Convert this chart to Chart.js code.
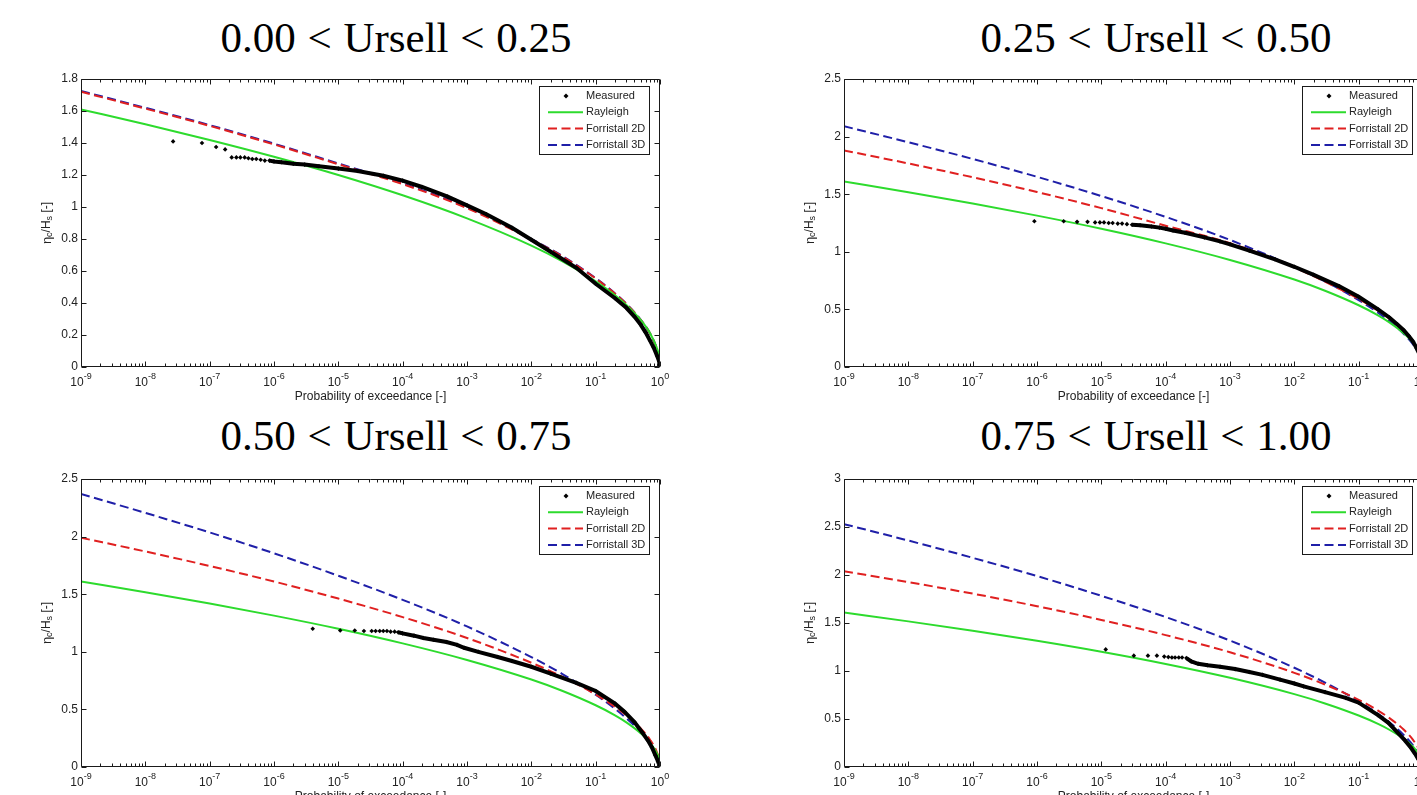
<!DOCTYPE html>
<html><head><meta charset="utf-8">
<script src="https://cdn.jsdelivr.net/npm/chart.js@4.4.1/dist/chart.umd.min.js"></script>
<style>
html,body{margin:0;padding:0;background:#fff;overflow:hidden;width:1417px;height:795px;position:relative;}
.panel{position:absolute;width:700px;height:360px;}
.title{position:absolute;font-family:'Liberation Serif','Times New Roman',serif;font-size:43px;line-height:44px;white-space:nowrap;transform:translateX(-50%);color:#000;word-spacing:1px;}
</style></head><body>
<div class="title" id="t0" style="left:396px;top:16px"></div>
<div class="title" id="t1" style="left:1156px;top:16px"></div>
<div class="title" id="t2" style="left:396px;top:414px"></div>
<div class="title" id="t3" style="left:1156px;top:414px"></div>
<div class="panel" style="left:0px;top:60px"><canvas id="c0"></canvas></div>
<div class="panel" style="left:763px;top:60px"><canvas id="c1"></canvas></div>
<div class="panel" style="left:0px;top:460px"><canvas id="c2"></canvas></div>
<div class="panel" style="left:763px;top:460px"><canvas id="c3"></canvas></div>
<script>
// ---------- data ----------
const panelTitles = ['0.00 < Ursell < 0.25','0.25 < Ursell < 0.50','0.50 < Ursell < 0.75','0.75 < Ursell < 1.00'];
const seriesNames = ['Measured','Rayleigh','Forristall 2D','Forristall 3D'];
const xTickValues = [1e-9,1e-8,1e-7,1e-6,1e-5,1e-4,1e-3,1e-2,1e-1,1];
const xTickBase = '10';
const xTickExponents = ['-9','-8','-7','-6','-5','-4','-3','-2','-1','0'];
const yMaxes = [1.8, 2.5, 2.5, 3];
const ySteps = [0.2, 0.5, 0.5, 0.5];

const pCurve = [1e-9,1e-8,1e-7,1e-6,1e-5,1e-4,1e-3,1e-2,3e-2,1e-1,0.2,0.3,0.5,0.7,0.9,0.97,1];
const rayleigh = [1.610,1.517,1.419,1.314,1.200,1.073,0.929,0.759,0.662,0.536,0.449,0.388,0.294,0.211,0.115,0.062,0];

const forr2D_a = [1.720,1.615,1.507,1.391,1.267,1.143,0.993,0.797,0.692,0.553,0.458,0.394,0.295,0.209,0.110,0.058,0];
const forr3D_a = [1.725,1.620,1.512,1.396,1.272,1.148,0.997,0.800,0.695,0.555,0.460,0.395,0.296,0.210,0.111,0.058,0];
const forr2D_b = [1.880,1.767,1.647,1.519,1.379,1.226,1.075,0.865,0.740,0.590,0.488,0.419,0.313,0.220,0.116,0.060,0];
const forr3D_b = [2.090,1.951,1.806,1.651,1.484,1.303,1.103,0.870,0.743,0.581,0.472,0.398,0.289,0.196,0.097,0.047,0];
const forr2D_c = [1.990,1.871,1.745,1.610,1.462,1.301,1.120,0.905,0.785,0.630,0.522,0.448,0.336,0.237,0.125,0.065,0];
const forr3D_c = [2.370,2.206,2.036,1.855,1.660,1.451,1.220,0.954,0.809,0.627,0.505,0.424,0.303,0.203,0.097,0.046,0];
const forr2D_d = [2.040,1.926,1.806,1.675,1.532,1.374,1.195,0.981,0.859,0.700,0.588,0.510,0.390,0.282,0.156,0.085,0];
const forr3D_d = [2.530,2.359,2.179,1.989,1.783,1.562,1.317,1.034,0.879,0.685,0.553,0.466,0.335,0.226,0.109,0.052,0];

const measP_a = [2.7e-8,7.6e-8,1.26e-7,1.74e-7,2.2e-7,2.6e-7,3.0e-7,3.5e-7,4.0e-7,4.6e-7,5.3e-7,6.2e-7,7.2e-7,8.5e-7,1e-6,1.3e-6,2e-6,3e-6,5e-6,1e-5,2e-5,5e-5,1e-4,2e-4,5e-4,1e-3,2e-3,5e-3,1e-2,2e-2,5e-2,0.1,0.2,0.3,0.4,0.5,0.6,0.7,0.8,0.9,0.97,1];
const measV_a = [1.41,1.40,1.375,1.36,1.31,1.31,1.31,1.31,1.305,1.30,1.30,1.295,1.29,1.29,1.285,1.28,1.27,1.265,1.255,1.24,1.225,1.195,1.165,1.125,1.065,1.01,0.955,0.87,0.795,0.72,0.62,0.52,0.43,0.37,0.315,0.265,0.215,0.165,0.12,0.07,0.035,0];
const measP_b = [9.1e-7,2.6e-6,4.2e-6,6.1e-6,8e-6,9.5e-6,1.1e-5,1.3e-5,1.5e-5,1.8e-5,2.1e-5,2.5e-5,3e-5,4e-5,6e-5,8e-5,1e-4,1.3e-4,2e-4,4e-4,7e-4,1e-3,2e-3,5e-3,1e-2,2e-2,5e-2,0.1,0.2,0.3,0.4,0.5,0.6,0.7,0.8,0.9,0.97,1];
const measV_b = [1.265,1.265,1.26,1.26,1.255,1.255,1.255,1.25,1.25,1.245,1.245,1.24,1.235,1.23,1.22,1.21,1.20,1.185,1.165,1.125,1.09,1.065,1.01,0.935,0.87,0.80,0.70,0.61,0.50,0.43,0.37,0.32,0.27,0.22,0.16,0.10,0.05,0];
const measP_c = [4e-6,1.07e-5,1.8e-5,2.5e-5,3.3e-5,3.8e-5,4.4e-5,5e-5,5.7e-5,6.5e-5,7.5e-5,8.5e-5,1e-4,1.5e-4,2.1e-4,3e-4,4.8e-4,7e-4,9e-4,1.5e-3,3e-3,5e-3,1e-2,2e-2,5e-2,0.1,0.2,0.28,0.4,0.53,0.65,0.75,0.85,0.93,1];
const measV_c = [1.20,1.185,1.185,1.18,1.18,1.18,1.18,1.18,1.18,1.175,1.175,1.17,1.16,1.14,1.12,1.105,1.085,1.06,1.035,1.0,0.955,0.92,0.87,0.81,0.73,0.66,0.55,0.48,0.39,0.30,0.23,0.17,0.10,0.05,0];
const measP_d = [1.17e-5,3.2e-5,5.3e-5,7.3e-5,9.5e-5,1.1e-4,1.25e-4,1.4e-4,1.6e-4,1.8e-4,2.1e-4,2.5e-4,3.2e-4,4.5e-4,7e-4,1.2e-3,2e-3,3.2e-3,6e-3,1e-2,1.4e-2,3e-2,6.3e-2,0.1,0.2,0.29,0.4,0.52,0.65,0.75,0.85,0.95,1];
const measV_d = [1.225,1.16,1.16,1.16,1.15,1.145,1.14,1.14,1.14,1.14,1.135,1.10,1.075,1.06,1.045,1.02,0.99,0.96,0.91,0.87,0.84,0.78,0.72,0.67,0.54,0.46,0.36,0.28,0.20,0.14,0.08,0.03,0];
// index from which measured points merge into a continuous band
const measJoinFrom = [13, 12, 11, 10];

// ---------- rendering ----------
const SANS = "'Liberation Sans', Arial, sans-serif";
const panels = [
  {mp: measP_a, mv: measV_a, f2: forr2D_a, f3: forr3D_a},
  {mp: measP_b, mv: measV_b, f2: forr2D_b, f3: forr3D_b},
  {mp: measP_c, mv: measV_c, f2: forr2D_c, f3: forr3D_c},
  {mp: measP_d, mv: measV_d, f2: forr2D_d, f3: forr3D_d}
];
const pts = (xs, ys) => xs.map((x, i) => ({x: x, y: ys[i]}));

const matlabPlugin = {
  id: 'matlabAxes',
  afterDatasetsDraw(chart) {
    const {ctx, chartArea: a, scales: {x, y}} = chart;
    ctx.save();
    ctx.strokeStyle = '#1a1a1a';
    ctx.lineWidth = 1;
    ctx.setLineDash([]);
    ctx.beginPath();
    const L = Math.round(a.left) + 0.5, R = Math.round(a.right) - 0.5;
    const T = Math.round(a.top) + 0.5, B = Math.round(a.bottom) - 0.5;
    ctx.moveTo(L, T); ctx.lineTo(R, T); ctx.lineTo(R, B); ctx.lineTo(L, B); ctx.closePath();
    xTickValues.forEach(v => {
      const px = Math.round(x.getPixelForValue(v)) + 0.5;
      ctx.moveTo(px, B); ctx.lineTo(px, B - 5);
      ctx.moveTo(px, T); ctx.lineTo(px, T + 5);
    });
    for (let k = 0; k < xTickValues.length - 1; k++) {
      for (let m = 2; m <= 9; m++) {
        const px = Math.round(x.getPixelForValue(xTickValues[k] * m)) + 0.5;
        ctx.moveTo(px, B); ctx.lineTo(px, B - 3);
        ctx.moveTo(px, T); ctx.lineTo(px, T + 3);
      }
    }
    y.ticks.forEach(t => {
      const py = Math.round(y.getPixelForValue(t.value)) + 0.5;
      ctx.moveTo(L, py); ctx.lineTo(L + 5, py);
      ctx.moveTo(R, py); ctx.lineTo(R - 5, py);
    });
    ctx.stroke();
    ctx.restore();
  },
  afterDraw(chart) {
    const {ctx, chartArea: a, scales: {x}} = chart;
    ctx.save();
    ctx.fillStyle = '#222';
    // x tick labels: base with superscript exponent
    ctx.textBaseline = 'alphabetic';
    ctx.textAlign = 'left';
    xTickValues.forEach((v, i) => {
      const px = x.getPixelForValue(v);
      ctx.font = '12px ' + SANS;
      const wb = ctx.measureText(xTickBase).width;
      ctx.font = '9px ' + SANS;
      const we = ctx.measureText(xTickExponents[i]).width;
      const x0 = px - (wb + we) / 2;
      ctx.font = '12px ' + SANS;
      ctx.fillText(xTickBase, x0, a.bottom + 19);
      ctx.font = '9px ' + SANS;
      ctx.fillText(xTickExponents[i], x0 + wb, a.bottom + 12);
    });
    // x axis title
    ctx.font = '12px ' + SANS;
    ctx.textAlign = 'center';
    ctx.textBaseline = 'middle';
    ctx.fillText('Probability of exceedance [-]', (a.left + a.right) / 2, a.bottom + 30);
    // y axis title with subscripts
    const parts = [['\u03B7', 13, 0], ['c', 9, 3], ['/H', 12, 0], ['s', 9, 3], [' [-]', 12, 0]];
    let total = 0;
    parts.forEach(p => { ctx.font = p[1] + 'px ' + SANS; p.push(ctx.measureText(p[0]).width); total += p[3]; });
    ctx.translate(47, (a.top + a.bottom) / 2);
    ctx.rotate(-Math.PI / 2);
    ctx.textAlign = 'left';
    let cx = -total / 2;
    parts.forEach(p => { ctx.font = p[1] + 'px ' + SANS; ctx.fillText(p[0], cx, p[2]); cx += p[3]; });
    ctx.restore();

    // legend box
    ctx.save();
    const bw = 110, bh = 68;
    const bx = Math.round(a.right) - 11 - bw, by = Math.round(a.top) + 7;
    ctx.fillStyle = '#fff';
    ctx.fillRect(bx, by, bw, bh);
    ctx.strokeStyle = '#1a1a1a';
    ctx.lineWidth = 1;
    ctx.strokeRect(bx + 0.5, by + 0.5, bw, bh);
    ctx.font = '11px ' + SANS;
    ctx.textBaseline = 'middle';
    ctx.textAlign = 'left';
    chart.data.datasets.forEach((ds, i) => {
      const ry = by + 10 + i * 16.3;
      if (i === 0) {
        ctx.fillStyle = '#000';
        ctx.beginPath();
        ctx.moveTo(bx + 27, ry - 2.5); ctx.lineTo(bx + 29.5, ry); ctx.lineTo(bx + 27, ry + 2.5); ctx.lineTo(bx + 24.5, ry);
        ctx.closePath(); ctx.fill();
      } else {
        ctx.strokeStyle = ds.borderColor;
        ctx.lineWidth = 2;
        ctx.setLineDash(ds.borderDash || []);
        ctx.beginPath(); ctx.moveTo(bx + 9, ry); ctx.lineTo(bx + 44, ry); ctx.stroke();
        ctx.setLineDash([]);
      }
      ctx.fillStyle = '#222';
      ctx.fillText(ds.label, bx + 47, ry);
    });
    ctx.restore();
  }
};

panels.forEach((p, i) => {
  document.getElementById('t' + i).textContent = panelTitles[i];
  const joinFrom = measJoinFrom[i];
  new Chart(document.getElementById('c' + i), {
    type: 'line',
    data: {
      datasets: [
        {label: seriesNames[0], data: pts(p.mp, p.mv), borderColor: '#000', backgroundColor: '#000',
         borderWidth: 4, pointStyle: 'rectRot', pointRadius: 2.3, pointBorderWidth: 0, pointBackgroundColor: '#000',
         tension: 0,
         segment: {borderColor: c => c.p0DataIndex < joinFrom ? 'rgba(0,0,0,0)' : undefined}},
        {label: seriesNames[1], data: pts(pCurve, rayleigh), borderColor: '#2ddb2d', borderWidth: 2,
         pointRadius: 0, cubicInterpolationMode: 'monotone'},
        {label: seriesNames[2], data: pts(pCurve, p.f2), borderColor: '#e02020', borderWidth: 2,
         borderDash: [9, 4.5], pointRadius: 0, cubicInterpolationMode: 'monotone'},
        {label: seriesNames[3], data: pts(pCurve, p.f3), borderColor: '#1f1fa8', borderWidth: 2,
         borderDash: [9, 4.5], pointRadius: 0, cubicInterpolationMode: 'monotone'}
      ]
    },
    options: {
      responsive: true, maintainAspectRatio: false, animation: false, devicePixelRatio: 1,
      layout: {padding: {top: 19, right: 40, bottom: 0, left: 0}},
      plugins: {legend: {display: false}, tooltip: {enabled: false}},
      events: [],
      scales: {
        x: {
          type: 'logarithmic', min: 1e-9, max: 1,
          grid: {display: false, drawTicks: false},
          border: {display: false},
          afterBuildTicks: s => { s.ticks = xTickValues.map(v => ({value: v})); },
          afterFit: s => { s.height = 53; },
          ticks: {display: false, autoSkip: false, maxRotation: 0}
        },
        y: {
          type: 'linear', min: 0, max: yMaxes[i],
          grid: {display: false, drawTicks: false},
          border: {display: false},
          afterFit: s => { s.width = 81; },
          ticks: {stepSize: ySteps[i], padding: 3, color: '#222', font: {family: SANS, size: 12},
                  callback: v => String(Math.round(v * 100) / 100)}
        }
      }
    },
    plugins: [matlabPlugin]
  });
});
</script>
</body></html>
